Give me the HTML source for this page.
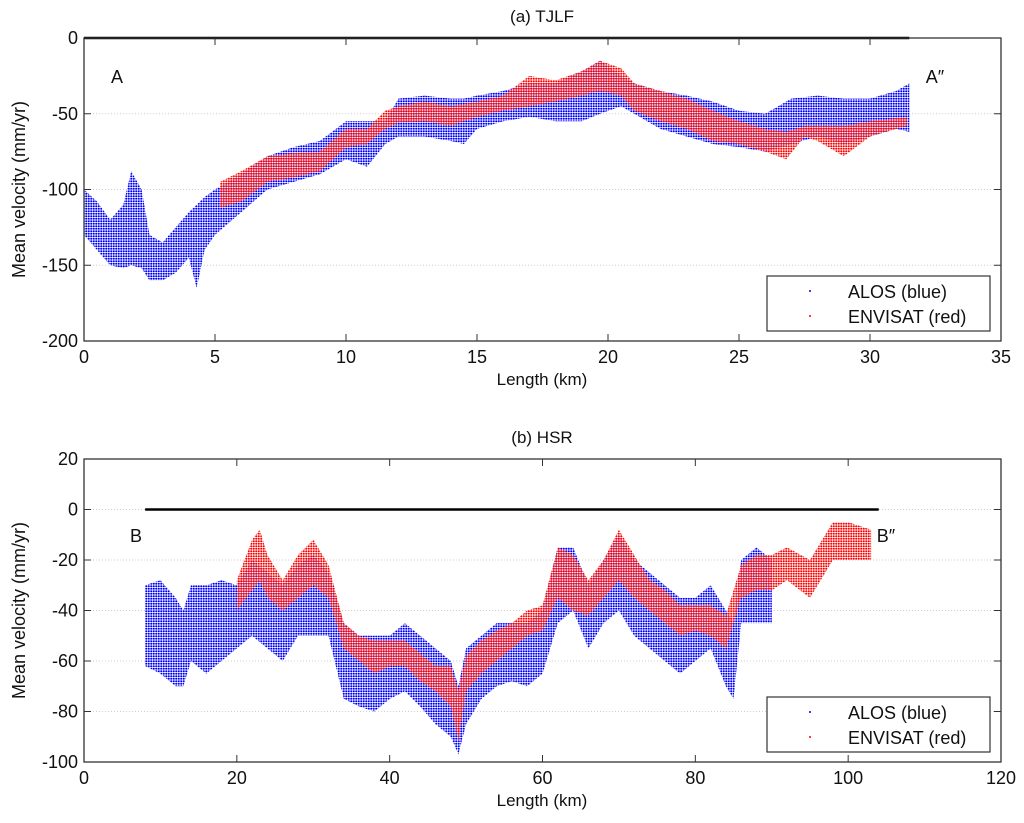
<!DOCTYPE html>
<html><head><meta charset="utf-8"><style>
html,body{margin:0;padding:0;background:#fff;}
svg{display:block;font-family:"Liberation Sans",Arial,sans-serif;}
</style></head><body>
<svg id="chart" width="1024" height="823" viewBox="0 0 1024 823">
<defs>
<pattern id="dotB" width="2.5" height="2.5" patternUnits="userSpaceOnUse"><circle cx="1.25" cy="1.25" r="1.05" fill="#0000ff"/></pattern>
<pattern id="dotR" width="2.5" height="2.5" patternUnits="userSpaceOnUse"><circle cx="1.25" cy="1.25" r="1.05" fill="#ff0000"/></pattern>
</defs>
<g id="gA"></g>
<g id="gB"></g>
</svg>
<script>
// Panel (a) TJLF data
const aAlosKm=[0,0.5,1,1.5,1.8,2.2,2.5,3,3.5,4,4.3,4.6,5,6,7,8,9,10,10.8,11.5,12,13,14,14.5,15,16,17,18,19,19.7,20.5,21,22,23,24,25,26,27,28,29,30,31,31.5];
const aAlosHi=[-100,-108,-120,-110,-88,-100,-130,-135,-125,-115,-110,-105,-100,-90,-78,-72,-68,-55,-55,-55,-40,-38,-40,-40,-38,-35,-30,-30,-22,-15,-25,-30,-35,-38,-42,-48,-50,-40,-38,-40,-40,-35,-30];
const aAlosLo=[-130,-140,-150,-152,-150,-152,-160,-160,-155,-145,-165,-140,-130,-115,-100,-95,-90,-80,-85,-70,-65,-65,-68,-70,-60,-55,-52,-55,-55,-50,-45,-50,-60,-65,-70,-72,-75,-70,-65,-70,-65,-60,-62];
const aEnvKm=[5.2,6,7,8,9,10,10.8,11.5,12,13,14,15,16,17,18,19,19.7,20.5,21,22,23,24,25,26,26.8,27.5,28,29,30,31.4];
const aEnvHi=[-95,-88,-78,-76,-75,-60,-60,-48,-45,-42,-45,-42,-38,-25,-28,-22,-15,-20,-30,-35,-40,-48,-55,-60,-62,-58,-58,-58,-55,-52];
const aEnvLo=[-112,-108,-95,-92,-88,-72,-70,-60,-56,-55,-58,-52,-48,-45,-42,-38,-35,-38,-48,-55,-60,-68,-70,-75,-80,-65,-68,-78,-65,-58];
const aXTicks=[0,5,10,15,20,25,30,35];
const aYTicks=[0,-50,-100,-150,-200];
// Panel (b) HSR data
const bAlosKm=[8,10,12,13,14,16,18,20,22,24,26,28,30,32,34,36,38,40,42,44,46,48,49,50,52,54,56,58,60,62,64,66,68,70,72,74,76,78,80,82,84,85,86,88,90];
const bAlosHi=[-30,-28,-35,-40,-30,-30,-28,-30,-20,-25,-30,-22,-18,-25,-45,-50,-50,-50,-45,-50,-55,-60,-70,-55,-50,-45,-45,-45,-40,-15,-15,-30,-20,-10,-20,-25,-30,-35,-35,-30,-40,-45,-20,-15,-20];
const bAlosLo=[-62,-65,-70,-70,-60,-65,-60,-55,-50,-55,-60,-50,-50,-50,-75,-78,-80,-75,-72,-78,-85,-90,-97,-85,-75,-70,-68,-70,-65,-45,-40,-55,-45,-40,-50,-55,-60,-65,-60,-55,-70,-75,-45,-45,-45];
const bEnvKm=[20,22,23,24,26,28,30,32,34,36,38,40,42,44,46,48,49,50,52,54,56,58,60,62,64,66,68,70,72,74,76,78,80,82,84,86,88,90,92,95,98,100,103];
const bEnvHi=[-28,-12,-8,-18,-28,-18,-12,-22,-45,-50,-52,-52,-52,-57,-62,-62,-72,-58,-52,-48,-45,-40,-38,-15,-18,-28,-20,-8,-18,-28,-32,-38,-38,-38,-42,-22,-18,-18,-15,-20,-5,-5,-8];
const bEnvLo=[-40,-32,-28,-35,-40,-35,-30,-35,-55,-60,-65,-62,-62,-68,-72,-78,-92,-72,-65,-60,-55,-50,-48,-35,-40,-42,-35,-28,-35,-40,-45,-50,-48,-50,-55,-35,-32,-32,-28,-35,-20,-20,-20];
const bXTicks=[0,20,40,60,80,100,120];
const bYTicks=[20,0,-20,-40,-60,-80,-100];

const NS="http://www.w3.org/2000/svg";
function mk(parent,tag,attrs,text){const e=document.createElementNS(NS,tag);for(const k in attrs)e.setAttribute(k,attrs[k]);if(text!==undefined)e.textContent=text;parent.appendChild(e);return e;}

function panel(g,cfg){
  const L=84,R=1001,T=cfg.top,B=cfg.bottom;
  const sx=v=>L+(v-cfg.xmin)/(cfg.xmax-cfg.xmin)*(R-L);
  const sy=v=>B-(v-cfg.ymin)/(cfg.ymax-cfg.ymin)*(B-T);
  cfg.yTicks.forEach(v=>{ if(v===cfg.ymin||v===cfg.ymax)return;
    const l=mk(g,'line',{x1:L,x2:R,y1:sy(v),y2:sy(v),stroke:'#cfcfcf','stroke-width':1,'stroke-dasharray':'1,2'});
    
    
  });
  function band(km,hi,lo,fill,name){
    let d='M'+km.map((k,i)=>sx(k).toFixed(1)+','+sy(hi[i]).toFixed(1)).join(' L');
    for(let i=km.length-1;i>=0;i--)d+=' L'+sx(km[i]).toFixed(1)+','+sy(lo[i]).toFixed(1);
    d+=' Z';
    const p=mk(g,'path',{d:d,fill:fill});
    
    
  }
  band(cfg.alos[0],cfg.alos[1],cfg.alos[2],'url(#dotB)','alos-points');
  band(cfg.env[0],cfg.env[1],cfg.env[2],'url(#dotR)','envisat-points');
  const pl=mk(g,'line',{x1:sx(cfg.line[0]),x2:sx(cfg.line[1]),y1:sy(0),y2:sy(0),stroke:'#000','stroke-width':2.5});
  
  
  const fr=mk(g,'rect',{x:L,y:T,width:R-L,height:B-T,fill:'none',stroke:'#333','stroke-width':1.3});
  
  
  cfg.xTicks.forEach(v=>{
    mk(g,'line',{x1:sx(v),x2:sx(v),y1:B,y2:B-7,stroke:'#333'});
    mk(g,'line',{x1:sx(v),x2:sx(v),y1:T,y2:T+7,stroke:'#333'});
    const t=mk(g,'text',{x:sx(v),y:B+22,'text-anchor':'middle','font-size':18,fill:'#111'},String(v));
    
    
  });
  cfg.yTicks.forEach(v=>{
    mk(g,'line',{x1:L,x2:L+7,y1:sy(v),y2:sy(v),stroke:'#333'});
    mk(g,'line',{x1:R,x2:R-7,y1:sy(v),y2:sy(v),stroke:'#333'});
    const t=mk(g,'text',{x:L-6,y:sy(v)+6,'text-anchor':'end','font-size':18,fill:'#111'},String(v));
    
    
  });
  const tt=mk(g,'text',{x:542,y:T-16,'text-anchor':'middle','font-size':17,fill:'#111'},cfg.title);
  
  
  const xl=mk(g,'text',{x:542,y:B+44,'text-anchor':'middle','font-size':17,fill:'#111'},'Length (km)');
  
  
  const cy=(T+B)/2;
  const yl=mk(g,'text',{x:25,y:cy,'text-anchor':'middle','font-size':18,fill:'#111',transform:'rotate(-90 25 '+cy+')'},'Mean velocity (mm/yr)');
  
  
  cfg.marks.forEach(m=>{
    const t=mk(g,'text',{x:m[1],y:m[2],'font-size':18,fill:'#111','text-anchor':'middle'},m[0]);
    
    
  });
  const lg=mk(g,'g',{});
  
  
  const ly=cfg.legendTop;
  mk(lg,'rect',{x:767,y:ly,width:223,height:55,fill:'#fff',stroke:'#333','stroke-width':1.2});
  mk(lg,'circle',{cx:810,cy:ly+15,r:1,fill:'#00f'});
  mk(lg,'circle',{cx:810,cy:ly+40,r:1,fill:'#f00'});
  const e1=mk(lg,'text',{x:848,y:ly+22,'font-size':18,fill:'#111'},'ALOS (blue)');
  
  
  const e2=mk(lg,'text',{x:848,y:ly+47,'font-size':18,fill:'#111'},'ENVISAT (red)');
  
  
}
panel(document.getElementById('gA'),{top:38,bottom:341,xmin:0,xmax:35,ymin:-200,ymax:0,xTicks:aXTicks,yTicks:aYTicks,
  alos:[aAlosKm,aAlosHi,aAlosLo],env:[aEnvKm,aEnvHi,aEnvLo],line:[0,31.5],title:'(a) TJLF',
  marks:[['A',117,83],['A\u2033',935,83]],legendTop:276});
panel(document.getElementById('gB'),{top:459,bottom:762,xmin:0,xmax:120,ymin:-100,ymax:20,xTicks:bXTicks,yTicks:bYTicks,
  alos:[bAlosKm,bAlosHi,bAlosLo],env:[bEnvKm,bEnvHi,bEnvLo],line:[8,104],title:'(b) HSR',
  marks:[['B',136,542],['B\u2033',886,542]],legendTop:697});
</script>
</body></html>
